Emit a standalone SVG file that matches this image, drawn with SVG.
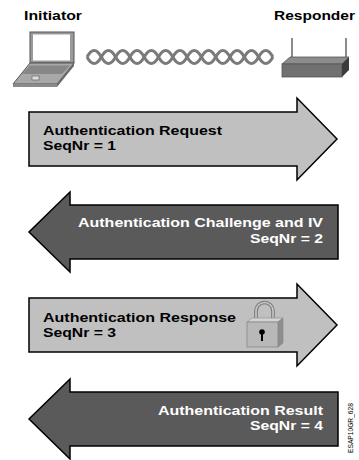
<svg xmlns="http://www.w3.org/2000/svg" width="359" height="460" viewBox="0 0 359 460">
  <style>
    .lbl { font-family: "Liberation Sans", Arial, sans-serif; font-weight: bold; font-size: 13px; }
    .hdr { font-family: "Liberation Sans", Arial, sans-serif; font-weight: bold; font-size: 12.5px; fill: #000; }
    .fwd { fill: #c0c0c0; stroke: #000; stroke-width: 1.5; stroke-linejoin: miter; }
    .back { fill: #5a5a5a; stroke: #000; stroke-width: 1.5; stroke-linejoin: miter; }
    .dark { fill: #000; }
    .light { fill: #fff; }
    .strand { fill: none; stroke: #7a7a7a; stroke-width: 3; }
  </style>
  <rect width="359" height="460" fill="#fff"/>

  <!-- Endpoints -->
  <g id="initiator">
    <text class="hdr" x="24" y="20" textLength="58" lengthAdjust="spacingAndGlyphs">Initiator</text>
    <!-- laptop lid -->
    <rect x="30" y="32" width="44" height="31" fill="#9a9a9a" stroke="#555" stroke-width="1"/>
    <rect x="33" y="34.5" width="37" height="26" fill="#fff"/>
    <!-- laptop base -->
    <polygon points="30,63 74,63 57,84 13,84" fill="#a8a8a8" stroke="#555" stroke-width="1"/>
    <polygon points="74,63 74,66 57,87 57,84" fill="#6a6a6a"/>
    <polygon points="13,84 57,84 57,87 13,87" fill="#8a8a8a"/>
    <polygon points="30,65.5 70,65.5 62,74 22,74" fill="#878787"/>
    <rect x="32" y="76" width="7" height="4" fill="#ddd" stroke="#666" stroke-width="0.7"/>
  </g>

  <g id="responder">
    <text class="hdr" x="274" y="20" textLength="81" lengthAdjust="spacingAndGlyphs">Responder</text>
    <!-- antennas -->
    <line x1="292" y1="38" x2="292" y2="58" stroke="#666" stroke-width="1.5"/>
    <line x1="346" y1="38" x2="346" y2="58" stroke="#666" stroke-width="1.5"/>
    <!-- box -->
    <polygon points="282,64 290,57 349,57 342,64" fill="#8c8c8c" stroke="#555" stroke-width="0.8"/>
    <rect x="282" y="64" width="60" height="13" fill="#707070" stroke="#555" stroke-width="0.8"/>
    <polygon points="342,64 349,57 349,70 342,77" fill="#3c3c3c"/>
  </g>

  <!-- Wireless link between the endpoints -->
  <g id="link">
    <path class="strand" d="M87,57 c4.77,-8.7 9.53,-8.7 14.3,0 c4.77,8.7 9.53,8.7 14.3,0 c4.77,-8.7 9.53,-8.7 14.3,0 c4.77,8.7 9.53,8.7 14.3,0 c4.77,-8.7 9.53,-8.7 14.3,0 c4.77,8.7 9.53,8.7 14.3,0 c4.77,-8.7 9.53,-8.7 14.3,0 c4.77,8.7 9.53,8.7 14.3,0 c4.77,-8.7 9.53,-8.7 14.3,0 c4.77,8.7 9.53,8.7 14.3,0 c4.77,-8.7 9.53,-8.7 14.3,0 c4.77,8.7 9.53,8.7 14.3,0 c4.77,-8.7 9.53,-8.7 14.3,0"/>
    <path class="strand" d="M87,57 c4.77,8.7 9.53,8.7 14.3,0 c4.77,-8.7 9.53,-8.7 14.3,0 c4.77,8.7 9.53,8.7 14.3,0 c4.77,-8.7 9.53,-8.7 14.3,0 c4.77,8.7 9.53,8.7 14.3,0 c4.77,-8.7 9.53,-8.7 14.3,0 c4.77,8.7 9.53,8.7 14.3,0 c4.77,-8.7 9.53,-8.7 14.3,0 c4.77,8.7 9.53,8.7 14.3,0 c4.77,-8.7 9.53,-8.7 14.3,0 c4.77,8.7 9.53,8.7 14.3,0 c4.77,-8.7 9.53,-8.7 14.3,0 c4.77,8.7 9.53,8.7 14.3,0"/>
  </g>

  <!-- Message exchange -->
  <g id="msg1">
    <path class="fwd" d="M29,112 H297 V98 L337,139 L297,180 V166 H29 Z"/>
    <text class="lbl dark" x="43" y="135" textLength="179" lengthAdjust="spacingAndGlyphs">Authentication Request</text>
    <text class="lbl dark" x="43" y="150" textLength="73" lengthAdjust="spacingAndGlyphs">SeqNr = 1</text>
  </g>

  <g id="msg2">
    <path class="back" d="M338,205 H70 V192 L29,232 L70,272 V259 H338 Z"/>
    <text class="lbl light" x="78" y="227" textLength="245" lengthAdjust="spacingAndGlyphs">Authentication Challenge and IV</text>
    <text class="lbl light" x="250" y="243" textLength="73" lengthAdjust="spacingAndGlyphs">SeqNr = 2</text>
  </g>

  <g id="msg3">
    <path class="fwd" d="M29,298 H297 V284 L337,325 L297,366 V352 H29 Z"/>
    <text class="lbl dark" x="43" y="322" textLength="193" lengthAdjust="spacingAndGlyphs">Authentication Response</text>
    <text class="lbl dark" x="43" y="337" textLength="73" lengthAdjust="spacingAndGlyphs">SeqNr = 3</text>
    <!-- padlock -->
    <path d="M256,322 V311 a8.5,8.5 0 0 1 17,0 V322" fill="none" stroke="#777" stroke-width="3.6"/>
    <path d="M256,322 V311 a8.5,8.5 0 0 1 17,0 V322" fill="none" stroke="#c8c8c8" stroke-width="1.6"/>
    <polygon points="247,322 252,318 283,318 278,322" fill="#d4d4d4" stroke="#888" stroke-width="0.6"/>
    <polygon points="278,322 283,318 283,343 278,347" fill="#8e8e8e" stroke="#888" stroke-width="0.6"/>
    <rect x="247" y="322" width="31" height="25" fill="#b8b8b8" stroke="#888" stroke-width="0.8"/>
    <circle cx="262" cy="332" r="2.8" fill="#000"/>
    <rect x="261" y="332" width="2" height="9" fill="#000"/>
  </g>

  <g id="msg4">
    <path class="back" d="M338,392 H70 V379 L29,419 L70,459 V446 H338 Z"/>
    <text class="lbl light" x="158" y="415" textLength="165" lengthAdjust="spacingAndGlyphs">Authentication Result</text>
    <text class="lbl light" x="250" y="430" textLength="73" lengthAdjust="spacingAndGlyphs">SeqNr = 4</text>
  </g>

  <text transform="translate(353,453) rotate(-90)" font-family="Liberation Sans, Arial, sans-serif" font-size="7" fill="#000" textLength="50" lengthAdjust="spacingAndGlyphs">ESAP10GR_628</text>
</svg>
